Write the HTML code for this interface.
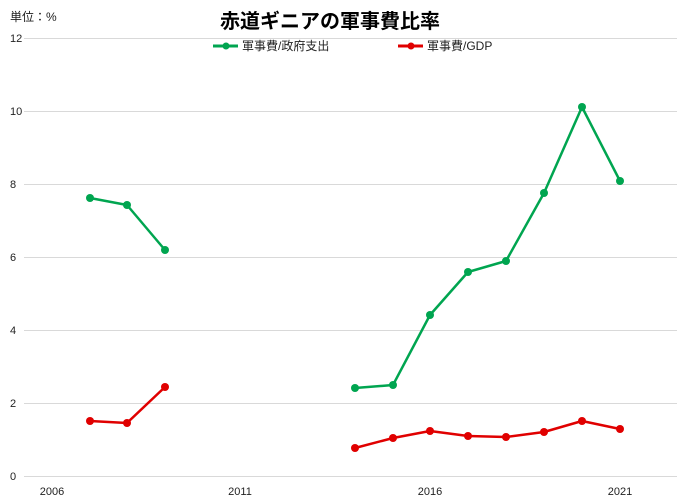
<!DOCTYPE html>
<html><head><meta charset="utf-8"><style>
body{margin:0;background:#fff;}
svg{display:block;font-family:"Liberation Sans","Noto Sans CJK JP",sans-serif;}
</style></head><body>
<svg width="699" height="504" viewBox="0 0 699 504">
<rect width="699" height="504" fill="#fff"/>
<g stroke="#d9d9d9" stroke-width="1">
<line x1="24" y1="38.5" x2="677" y2="38.5"/>
<line x1="24" y1="111.5" x2="677" y2="111.5"/>
<line x1="24" y1="184.5" x2="677" y2="184.5"/>
<line x1="24" y1="257.5" x2="677" y2="257.5"/>
<line x1="24" y1="330.5" x2="677" y2="330.5"/>
<line x1="24" y1="403.5" x2="677" y2="403.5"/>
<line x1="24" y1="476.5" x2="677" y2="476.5"/>
</g>
<g font-size="11" fill="#222">
<text x="10" y="42">12</text><text x="10" y="115">10</text><text x="10" y="188">8</text>
<text x="10" y="261">6</text><text x="10" y="334">4</text><text x="10" y="407">2</text><text x="10" y="480">0</text>
<text x="52" y="495" text-anchor="middle">2006</text><text x="240" y="495" text-anchor="middle">2011</text>
<text x="430" y="495" text-anchor="middle">2016</text><text x="620" y="495" text-anchor="middle">2021</text>
<text x="10" y="21" font-size="12">単位：%</text>
</g>
<text x="330" y="28" font-size="20" font-weight="bold" text-anchor="middle" fill="#000">赤道ギニアの軍事費比率</text>
<g font-size="12" fill="#222">
<line x1="213" y1="46" x2="238" y2="46" stroke="#00a550" stroke-width="3"/><circle cx="226" cy="46" r="3.5" fill="#00a550"/>
<text x="242" y="50">軍事費/政府支出</text>
<line x1="398" y1="46" x2="423" y2="46" stroke="#e00000" stroke-width="3"/><circle cx="411" cy="46" r="3.5" fill="#e00000"/>
<text x="427" y="50">軍事費/GDP</text>
</g>
<g fill="none" stroke-width="2.5" stroke-linejoin="round">
<polyline stroke="#00a550" points="90,198 127,205 165,250"/>
<polyline stroke="#00a550" points="355,388 393,385 430,315 468,272 506,261 544,193 582,107 620,181"/>
<polyline stroke="#e00000" points="90,421 127,423 165,387"/>
<polyline stroke="#e00000" points="355,448 393,438 430,431 468,436 506,437 544,432 582,421 620,429"/>
</g>
<g fill="#00a550">
<circle cx="90" cy="198" r="4"/><circle cx="127" cy="205" r="4"/><circle cx="165" cy="250" r="4"/>
<circle cx="355" cy="388" r="4"/><circle cx="393" cy="385" r="4"/><circle cx="430" cy="315" r="4"/><circle cx="468" cy="272" r="4"/>
<circle cx="506" cy="261" r="4"/><circle cx="544" cy="193" r="4"/><circle cx="582" cy="107" r="4"/><circle cx="620" cy="181" r="4"/>
</g>
<g fill="#e00000">
<circle cx="90" cy="421" r="4"/><circle cx="127" cy="423" r="4"/><circle cx="165" cy="387" r="4"/>
<circle cx="355" cy="448" r="4"/><circle cx="393" cy="438" r="4"/><circle cx="430" cy="431" r="4"/><circle cx="468" cy="436" r="4"/>
<circle cx="506" cy="437" r="4"/><circle cx="544" cy="432" r="4"/><circle cx="582" cy="421" r="4"/><circle cx="620" cy="429" r="4"/>
</g>
</svg>
</body></html>
